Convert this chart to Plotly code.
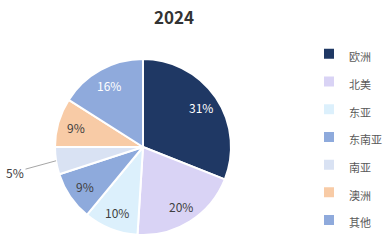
import math
import plotly.graph_objects as go

categories = ["欧洲", "北美", "东亚", "东南亚", "南亚", "澳洲", "其他"]
values = [31, 20, 10, 9, 5, 9, 16]
colors = ["#1f3864", "#d9d3f5", "#dcf0fc", "#8eaadc", "#d9e2f3", "#f8cba6", "#8faadc"]
label_colors = ["white", "#404040", "#404040", "#404040", "#404040", "#404040", "white"]
title_text = "2024"

W, H = 387, 246
CX, CY, R = 143, 147, 88  # pie centre / radius in px
LABEL_R = 70               # radius of inside labels in px

total = sum(values)
outside_idx = values.index(min(values))
legend_labels = [f"<span style='font-size:11px'>{c}</span>" for c in categories]

fig = go.Figure(go.Pie(
    labels=legend_labels,
    values=values,
    textinfo="none",
    marker=dict(colors=colors, line=dict(color="white", width=2)),
    sort=False,
    direction="clockwise",
    rotation=0,
    domain=dict(x=[(CX - R) / W, (CX + R) / W], y=[(H - CY - R) / H, (H - CY + R) / H]),
    automargin=False,
    hoverinfo="skip",
))

cum = 0
for i, v in enumerate(values):
    mid = cum + v / 2
    cum += v
    ang = mid / total * 2 * math.pi
    pct = f"{round(v / total * 100)}%"
    font = dict(size=12, color=label_colors[i], family="Noto Sans CJK SC")
    if i == outside_idx:
        px = CX + R * math.sin(ang)
        py = CY - R * math.cos(ang)
        fig.add_annotation(
            x=px / W, y=1 - py / H, xref="paper", yref="paper", text=pct,
            showarrow=True, arrowhead=0, arrowwidth=1, arrowcolor="#a6a6a6",
            ax=15 - px, ay=172 - py, font=font,
        )
    else:
        px = CX + LABEL_R * math.sin(ang)
        py = CY - LABEL_R * math.cos(ang)
        fig.add_annotation(
            x=px / W, y=1 - py / H, xref="paper", yref="paper", text=pct,
            showarrow=False, xanchor="center", yanchor="middle", font=font,
        )

fig.update_layout(
    width=W, height=H,
    margin=dict(l=0, r=0, t=0, b=0),
    paper_bgcolor="white", plot_bgcolor="white",
    title=dict(text=f"<b>{title_text}</b>", x=174 / W, xanchor="center", y=1 - 18 / H, yanchor="middle",
               font=dict(size=17, color="#333333", family="Noto Sans CJK SC")),
    legend=dict(x=1, xanchor="right", y=1 - 35 / H, yanchor="top",
                font=dict(size=19, color="#595959", family="Noto Sans CJK SC"),
                itemwidth=30, bgcolor="rgba(0,0,0,0)"),
    showlegend=True,
)

fig.write_html("out.html")
